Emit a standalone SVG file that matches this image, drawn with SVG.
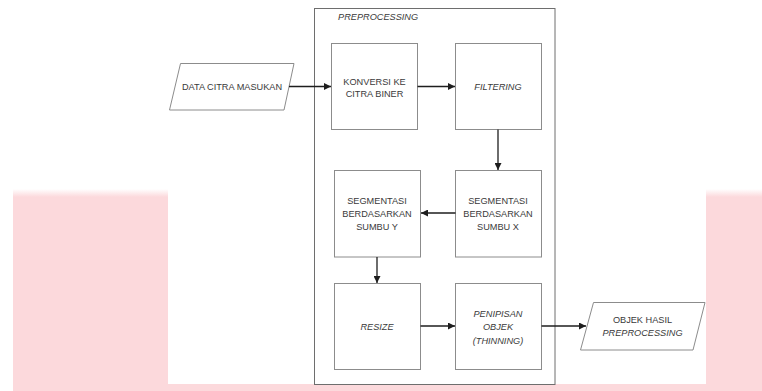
<svg xmlns="http://www.w3.org/2000/svg" width="762" height="391" viewBox="0 0 762 391">
<defs>
<style>
.bx{fill:#ffffff;stroke:#8c8c8c;stroke-width:1}
.outer{fill:#ffffff;stroke:#6e6e6e;stroke-width:1}
.t{font-family:"Liberation Sans",Arial,sans-serif;font-size:9.2px;fill:#3a3a3a;text-anchor:middle}
.i{font-style:italic}
.c{stroke:#1e1e1e;stroke-width:1.3;fill:none;marker-end:url(#ah)}
</style>
<marker id="ah" viewBox="0 0 10 10" refX="10" refY="5" markerWidth="7" markerHeight="7" markerUnits="userSpaceOnUse" orient="auto">
<path d="M0,0 L10,5 L0,10 z" fill="#1e1e1e"/>
</marker>
<linearGradient id="pt" x1="0" y1="0" x2="0" y2="1">
<stop offset="0" stop-color="#fcd9dc" stop-opacity="0"/>
<stop offset="1" stop-color="#fcd9dc"/>
</linearGradient>
</defs>
<rect x="0" y="0" width="762" height="391" fill="#ffffff"/>
<rect x="13" y="197" width="749" height="194" fill="#fcd9dc"/>
<rect x="13" y="189" width="749" height="8" fill="url(#pt)"/>
<rect x="168" y="0" width="538" height="384" fill="#ffffff"/>

<g id="preprocessing">
<rect class="outer" x="314.5" y="8.5" width="240.5" height="376"/>
<text class="t i" x="338" y="20" style="text-anchor:start">PREPROCESSING</text>
</g>

<g id="input">
<polygon class="bx" points="180.5,63.5 294,63.5 284,110 169.5,110"/>
<text class="t" x="232" y="90">DATA CITRA MASUKAN</text>
</g>

<g id="konversi">
<rect class="bx" x="331.5" y="43.5" width="86" height="86"/>
<text class="t" x="374.5" y="84.5">KONVERSI KE</text>
<text class="t" x="374.5" y="97">CITRA BINER</text>
</g>

<g id="filtering">
<rect class="bx" x="455.5" y="43.5" width="86" height="86"/>
<text class="t i" x="498" y="89.5">FILTERING</text>
</g>

<g id="segx">
<rect class="bx" x="455.5" y="170.5" width="86" height="86.5"/>
<text class="t" x="498" y="204.3">SEGMENTASI</text>
<text class="t" x="498" y="217">BERDASARKAN</text>
<text class="t" x="498" y="229.7">SUMBU X</text>
</g>

<g id="segy">
<rect class="bx" x="334.5" y="170.5" width="86" height="86.5"/>
<text class="t" x="377" y="204.3">SEGMENTASI</text>
<text class="t" x="377" y="217">BERDASARKAN</text>
<text class="t" x="377" y="229.7">SUMBU Y</text>
</g>

<g id="resize">
<rect class="bx" x="334.5" y="283.5" width="86" height="86"/>
<text class="t i" x="377" y="329.5">RESIZE</text>
</g>

<g id="penipisan">
<rect class="bx" x="455.5" y="283.5" width="86" height="86"/>
<text class="t i" x="498" y="316.5">PENIPISAN</text>
<text class="t i" x="498" y="330">OBJEK</text>
<text class="t i" x="498" y="343.5">(THINNING)</text>
</g>

<g id="output">
<polygon class="bx" points="593.5,302.5 705,302.5 693,350 580.5,350"/>
<text class="t" x="642.5" y="322.5">OBJEK HASIL</text>
<text class="t i" x="642.5" y="336">PREPROCESSING</text>
</g>

<g id="connectors">
<line class="c" x1="289" y1="86.5" x2="331" y2="86.5"/>
<line class="c" x1="417.5" y1="86.5" x2="455" y2="86.5"/>
<line class="c" x1="498" y1="129.5" x2="498" y2="170"/>
<line class="c" x1="455.5" y1="213" x2="421" y2="213"/>
<line class="c" x1="377" y1="257" x2="377" y2="283"/>
<line class="c" x1="420.5" y1="326" x2="455" y2="326"/>
<line class="c" x1="541.5" y1="326" x2="586" y2="326"/>
</g>
</svg>
